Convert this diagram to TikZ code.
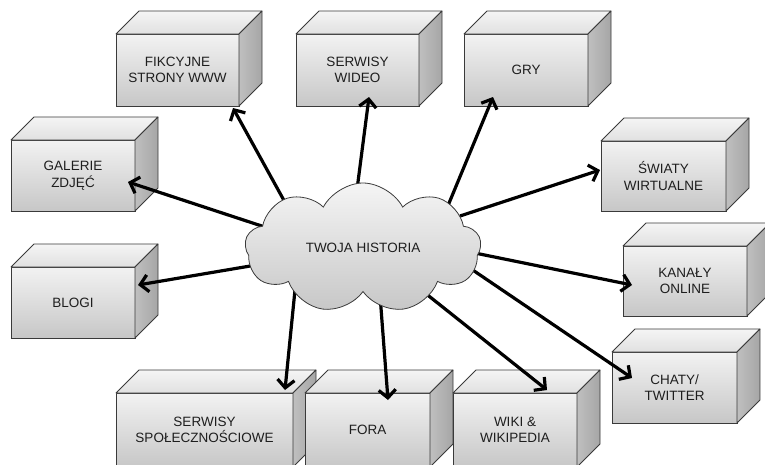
\documentclass[tikz,border=0pt]{standalone}
\usepackage{fontspec}
\setmainfont{Liberation Sans}
\usetikzlibrary{shapes.symbols,arrows.meta}
\definecolor{edge}{HTML}{3A3A3A}
\definecolor{txt}{HTML}{1E1E1E}
\newcommand\cubefaces[1]{%
  \path[topface] (#1.north west) -- ++(23,-23) -- ([shift={(23,-23)}]#1.north east) -- (#1.north east) -- cycle;
  \path[sideface] (#1.north east) -- ++(23,-23) -- ([shift={(23,-23)}]#1.south east) -- (#1.south east) -- cycle;}
\begin{document}
\begin{tikzpicture}[x=1pt,y=-1pt,
  box/.style={draw=edge, line width=0.8pt, top color=black!5, bottom color=black!22,
    outer sep=0pt, inner sep=0pt, align=center, text=txt,
    font=\fontsize{13.5}{16.5}\selectfont},
  topface/.style={draw=edge, line width=0.8pt, top color=black!4, bottom color=black!12, line join=round},
  sideface/.style={draw=edge, line width=0.8pt, left color=black!25, right color=black!35, line join=round},
  conn/.style={line width=3.2pt, -{Straight Barb[length=8pt,width=17pt,line width=3.2pt]}},
  blob/.style={cloud, cloud puffs=9, cloud puff arc=125, cloud ignores aspect, draw=edge, line width=0.8pt,
    top color=black!4, bottom color=black!22, minimum width=236pt, minimum height=130pt,
    text=txt, font=\fontsize{13.5}{16.5}\selectfont}]
\useasboundingbox (0,0) rectangle (765,464);
\clip (0,0) rectangle (765,464);
% boxes
\node[box, minimum width=123pt, minimum height=72pt] (fik) at (177.5,70) {FIKCYJNE\\STRONY WWW};
\cubefaces{fik}
\node[box, minimum width=123pt, minimum height=72pt] (wid) at (357.5,70) {SERWISY\\WIDEO};
\cubefaces{wid}
\node[box, minimum width=124pt, minimum height=72pt] (gry) at (526,70) {GRY};
\cubefaces{gry}
\node[box, minimum width=124pt, minimum height=71pt] (gal) at (73,175.5) {GALERIE\\ZDJĘĆ};
\cubefaces{gal}
\node[box, minimum width=124pt, minimum height=71pt] (blo) at (73,302.5) {BLOGI};
\cubefaces{blo}
\node[box, minimum width=125pt, minimum height=70pt] (swi) at (663.5,176) {ŚWIATY\\WIRTUALNE};
\cubefaces{swi}
\node[box, minimum width=124pt, minimum height=70pt] (kan) at (685,281) {KANAŁY\\ONLINE};
\cubefaces{kan}
\node[box, minimum width=125pt, minimum height=71pt] (cha) at (674.5,387.5) {CHATY/\\TWITTER};
\cubefaces{cha}
\node[box, minimum width=177pt, minimum height=74pt] (spo) at (204.5,430) {SERWISY\\SPOŁECZNOŚCIOWE};
\cubefaces{spo}
\node[box, minimum width=125pt, minimum height=74pt] (for) at (367.5,430) {FORA};
\cubefaces{for}
\node[box, minimum width=124pt, minimum height=74pt] (wik) at (515,430) {WIKI \&\\WIKIPEDIA};
\cubefaces{wik}
% arrow ends
\coordinate (s-fik) at (292,215); \coordinate (t-fik) at (233,108);
\coordinate (s-gal) at (280,232); \coordinate (t-gal) at (128,182);
\coordinate (s-wid) at (355,205); \coordinate (t-wid) at (369,97);
\coordinate (s-gry) at (447,208); \coordinate (t-gry) at (493,97);
\coordinate (s-swi) at (460,216); \coordinate (t-swi) at (600,170);
\coordinate (s-kan) at (465,251); \coordinate (t-kan) at (632,285);
\coordinate (s-cha) at (455,258); \coordinate (t-cha) at (632,378);
\coordinate (s-blo) at (262,264); \coordinate (t-blo) at (138,285);
\coordinate (s-spo) at (295,290); \coordinate (t-spo) at (285,390);
\coordinate (s-for) at (380,295); \coordinate (t-for) at (388,400);
\coordinate (s-wik) at (415,285); \coordinate (t-wik) at (547,390);
\foreach \n in {fik,gal,wid,gry,swi,kan,cha,blo,spo,for,wik}
  \draw[conn] (s-\n) -- (t-\n);
% cloud
\node[blob] (story) at (363,248) {TWOJA HISTORIA};
\end{tikzpicture}
\end{document}
